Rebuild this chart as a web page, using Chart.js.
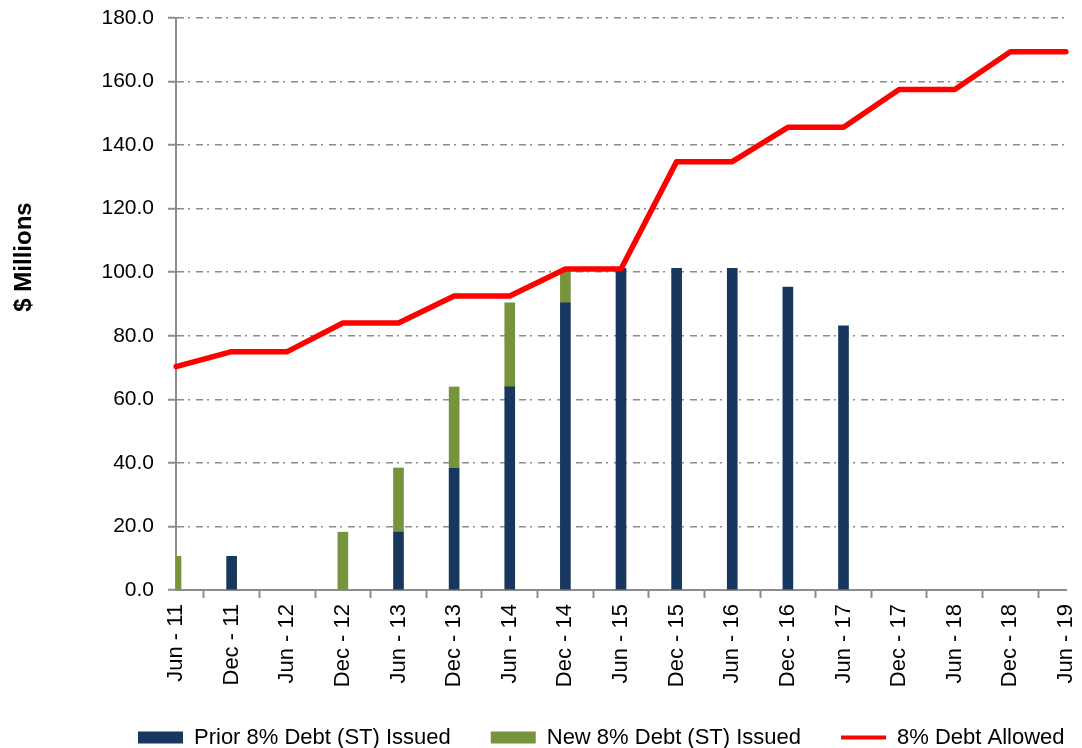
<!DOCTYPE html>
<html>
<head>
<meta charset="utf-8">
<script src="https://cdn.jsdelivr.net/npm/chart.js@4.4.1/dist/chart.umd.min.js"></script>
<style>
  html, body { margin: 0; padding: 0; background: #ffffff; }
  #wrap { width: 1082px; height: 748px; position: relative; }
</style>
</head>
<body>
<div id="wrap"><canvas id="c" width="1082" height="748"></canvas></div>
<script>
const categories = ['Jun - 11','Dec - 11','Jun - 12','Dec - 12','Jun - 13','Dec - 13','Jun - 14','Dec - 14','Jun - 15','Dec - 15','Jun - 16','Dec - 16','Jun - 17','Dec - 17','Jun - 18','Dec - 18','Jun - 19'];
const priorIssued = [null, 10.6, null, null, 18.2, 38.3, 63.9, 90.4, 101.2, 101.2, 101.2, 95.3, 83.1, null, null, null, null];
const newIssued   = [10.6, null, null, 18.2, 20.2, 25.6, 26.5, 10.3, null, null, null, null, null, null, null, null, null];
const debtAllowed = [70.3, 75.0, 75.0, 84.0, 84.0, 92.5, 92.5, 101.0, 101.0, 134.8, 134.8, 145.6, 145.6, 157.5, 157.5, 169.4, 169.4];
const yTicks = [0, 20, 40, 60, 80, 100, 120, 140, 160, 180];
const seriesNames = ['Prior 8% Debt (ST) Issued', 'New 8% Debt (ST) Issued', '8% Debt Allowed'];
const yTitle = '$ Millions';

const FONT = "'Liberation Sans', Arial, sans-serif";
const GRID = '#8c8c8c';
const LEGEND_PAD = 40;

const layoutPlugin = {
  id: 'layoutTweaks',
  afterLayout(chart) {
    const lg = chart.legend;
    if (lg) {
      const w = lg.right - lg.left;
      lg.left = 138 - LEGEND_PAD;
      lg.right = lg.left + w;
      lg.top = 686.5;
      lg.bottom = lg.top + lg.height;
    }
    // let rotated x labels extend below the scale box without clipping
    if (chart.scales.x) chart.scales.x.bottom = 710;
  },
  afterDraw(chart) {
    const ctx = chart.ctx;
    ctx.save();
    ctx.translate(24, 257);
    ctx.rotate(-Math.PI / 2);
    ctx.font = "bold 24px " + FONT;
    ctx.fillStyle = '#000';
    ctx.textAlign = 'center';
    ctx.textBaseline = 'middle';
    ctx.fillText(yTitle, 0, 0);
    ctx.restore();
  }
};

new Chart(document.getElementById('c'), {
  data: {
    labels: categories,
    datasets: [
      { type: 'bar', label: seriesNames[0], data: priorIssued, backgroundColor: '#17375E', barThickness: 10, stack: 's', order: 2 },
      { type: 'bar', label: seriesNames[1], data: newIssued, backgroundColor: '#77933C', barThickness: 10, stack: 's', order: 2 },
      { type: 'line', label: seriesNames[2], data: debtAllowed, borderColor: '#FF0000', backgroundColor: '#FF0000', borderWidth: 5.5, pointRadius: 0, tension: 0, borderCapStyle: 'round', borderJoinStyle: 'round', fill: false, order: 1 }
    ]
  },
  options: {
    responsive: false,
    animation: false,
    devicePixelRatio: 1,
    layout: { padding: { left: 0, right: 16, top: 18, bottom: 0 } },
    plugins: {
      tooltip: { enabled: false },
      legend: {
        position: 'bottom',
        align: 'start',
        labels: {
          font: { family: FONT, size: 22 },
          color: '#000',
          usePointStyle: true,
          pointStyleWidth: 45,
          boxHeight: 12,
          padding: LEGEND_PAD,
          generateLabels(chart) {
            return chart.data.datasets.map((ds, i) => ({
              text: ds.label,
              fillStyle: ds.type === 'line' ? '#FF0000' : ds.backgroundColor,
              strokeStyle: ds.type === 'line' ? '#FF0000' : ds.backgroundColor,
              lineWidth: ds.type === 'line' ? 4 : 0,
              pointStyle: ds.type === 'line' ? 'line' : 'rect',
              hidden: false,
              datasetIndex: i,
              fontColor: '#000'
            }));
          }
        }
      }
    },
    scales: {
      x: {
        type: 'category',
        offset: false,
        stacked: true,
        grid: { drawOnChartArea: false, drawTicks: true, tickLength: 8, color: GRID, tickWidth: 2 },
        border: { color: GRID, width: 2 },
        ticks: { font: { family: FONT, size: 22 }, color: '#000', maxRotation: 90, minRotation: 90, autoSkip: false, padding: 6 },
        afterFit(scale) {
          scale.paddingLeft = 0; scale.paddingRight = 0;
          const lg = scale.chart.legend;
          const lh = lg && lg.height ? lg.height : 50;
          scale.height = 748 - 590 - lh;
        }
      },
      y: {
        stacked: true,
        min: 0, max: 180,
        afterBuildTicks(scale) { scale.ticks = yTicks.map(v => ({ value: v })); },
        grid: { color: GRID, lineWidth: 1.5, tickLength: 8, tickColor: GRID, tickWidth: 2, tickBorderDash: [] },
        border: { color: GRID, width: 2, dash: [7, 4, 2, 6] },
        ticks: { font: { family: FONT, size: 21 }, color: '#000', padding: 14, callback: (v) => Number(v).toFixed(1) },
        afterFit(scale) { scale.width = 176; scale.paddingTop = 0; scale.paddingBottom = 0; }
      }
    }
  },
  plugins: [layoutPlugin]
});
</script>
</body>
</html>
